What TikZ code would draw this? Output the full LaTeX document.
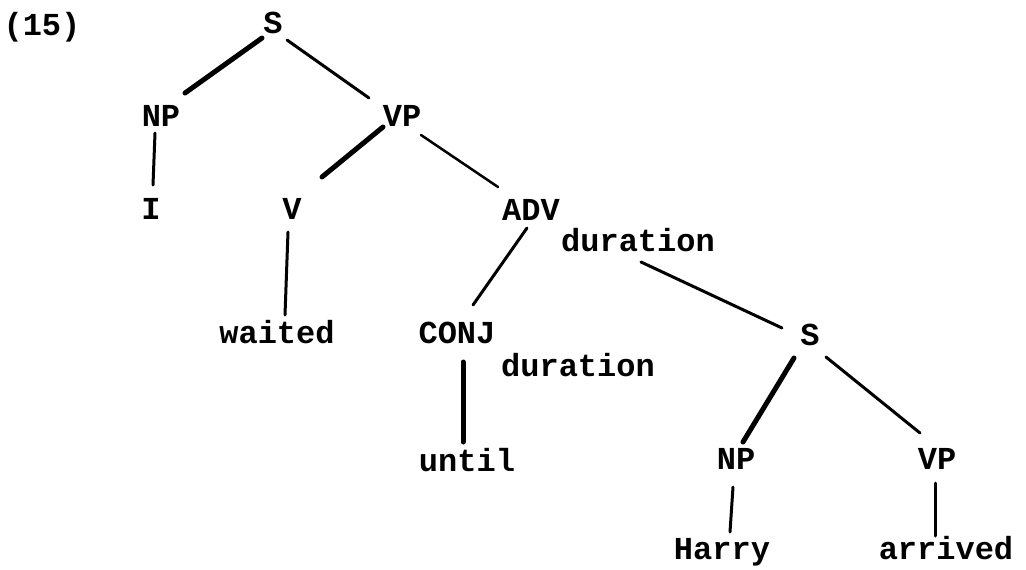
\documentclass[tikz,border=0pt]{standalone}
\usepackage{fontspec}
\setmonofont{Liberation Mono}
\begin{document}
\begin{tikzpicture}[x=1pt,y=-1pt,
  lab/.style={font=\fontsize{32}{32}\selectfont\ttfamily\bfseries,
    text height=21pt,text depth=0pt,inner sep=0pt,anchor=center},
  edge/.style={line width=3pt,line cap=round},
  heavy/.style={line width=5pt,line cap=round}]
\useasboundingbox (0,0) rectangle (1026,570);

% example number
\node[lab] (num) at (42,25) {(15)};

% main clause
\node[lab] (s1)  at (273,23)  {S};
\node[lab] (np1) at (161,116) {NP};
\node[lab] (vp1) at (402,116) {VP};
\node[lab] (i)   at (151,209) {I};
\node[lab] (v)   at (292,209) {V};
\node[lab] (adv) at (531,210) {ADV};
\node[lab] (durA) at (638,241) {duration};
\node[lab] (waited) at (277,333) {waited};
\node[lab] (conj) at (457,333) {CONJ};
\node[lab] (durC) at (578,366) {duration};
\node[lab] (until) at (467,461) {until};

% embedded clause
\node[lab] (s2)  at (810,335) {S};
\node[lab] (np2) at (736,459) {NP};
\node[lab] (vp2) at (937,459) {VP};
\node[lab] (harry) at (722,549) {Harry};
\node[lab] (arrived) at (946,549) {arrived};

% branches (end points offset from the label centres)
\draw[heavy] ([shift={(-11,15)}]s1.center) -- ([shift={(24,-23)}]np1.center);
\draw[edge]  ([shift={(14,17)}]s1.center)  -- ([shift={(-33,-18)}]vp1.center);
\draw[edge]  ([shift={(-6,17)}]np1.center) -- ([shift={(2,-24)}]i.center);
\draw[heavy] ([shift={(-19,11)}]vp1.center) -- ([shift={(30,-32)}]v.center);
\draw[edge,line width=2.5pt] ([shift={(19,19)}]vp1.center) -- ([shift={(-33,-23)}]adv.center);
\draw[edge]  ([shift={(-4,23)}]v.center)   -- ([shift={(8,-18)}]waited.center);
\draw[edge]  ([shift={(-4,18)}]adv.center) -- ([shift={(16,-28)}]conj.center);
\draw[edge]  ([shift={(3,21)}]durA.center) -- ([shift={(-28,-7)}]s2.center);
\draw[heavy] ([shift={(6,29)}]conj.center) -- ([shift={(-4,-19)}]until.center);
\draw[heavy] ([shift={(-16,23)}]s2.center) -- ([shift={(7,-17)}]np2.center);
\draw[edge]  ([shift={(16,22)}]s2.center)  -- ([shift={(-17,-26)}]vp2.center);
\draw[edge]  ([shift={(-3,28)}]np2.center) -- ([shift={(8,-17)}]harry.center);
\draw[edge]  ([shift={(-2,24)}]vp2.center) -- ([shift={(-11,-13)}]arrived.center);
\end{tikzpicture}
\end{document}
